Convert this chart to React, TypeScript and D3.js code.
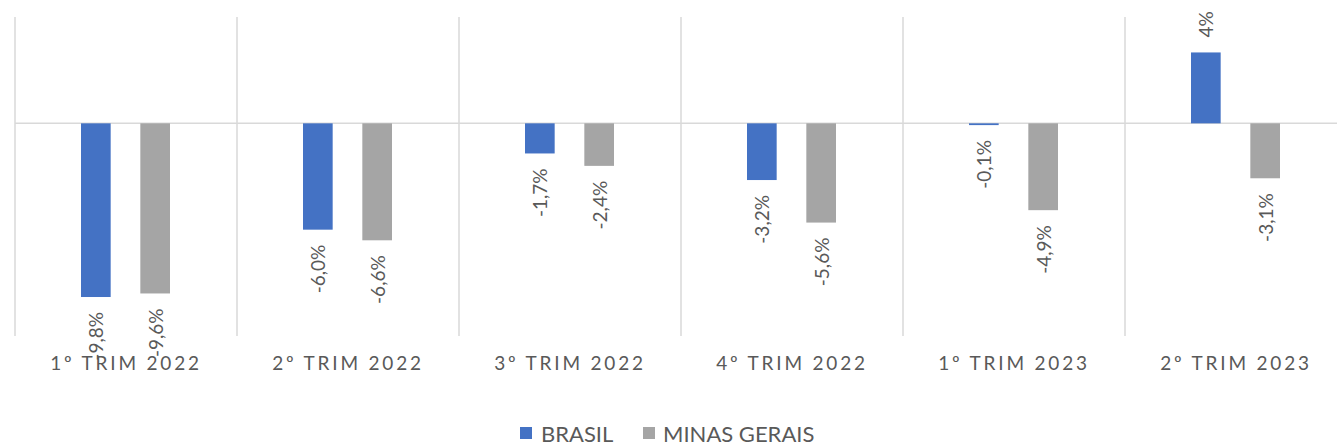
import React from 'react';
import * as d3 from 'd3';

const categories = ['1º TRIM 2022', '2º TRIM 2022', '3º TRIM 2022', '4º TRIM 2022', '1º TRIM 2023', '2º TRIM 2023'];
const seriesNames = ['BRASIL', 'MINAS GERAIS'];
const brasil = [-9.8, -6.0, -1.7, -3.2, -0.1, 4];
const minasGerais = [-9.6, -6.6, -2.4, -5.6, -4.9, -3.1];
const brasilLabels = ['-9,8%', '-6,0%', '-1,7%', '-3,2%', '-0,1%', '4%'];
const minasLabels = ['-9,6%', '-6,6%', '-2,4%', '-5,6%', '-4,9%', '-3,1%'];
const colors = ['#4472C4', '#A5A5A5'];

const W = 1337;
const H = 448;
const font = 'Lato, "Open Sans", sans-serif';
const textColor = '#595959';
const gridColor = '#D9D9D9';

const App: React.FC = () => {
  const x = d3.scaleBand<string>().domain(categories).range([15, 15 + 222 * 6]).padding(0);
  const inner = d3.scaleBand<string>().domain(seriesNames).range([66, 155]).paddingInner(0.5);
  const y = d3.scaleLinear().domain([-12, 6]).range([336, 17]);

  const series = [
    { name: seriesNames[0], values: brasil, labels: brasilLabels, color: colors[0] },
    { name: seriesNames[1], values: minasGerais, labels: minasLabels, color: colors[1] },
  ];

  const boundaries = d3.range(categories.length + 1).map(i => 15 + i * x.step());

  return (
    <svg
      width={W}
      height={H}
      style={{ position: 'absolute', left: 0, top: 0, background: '#fff' }}
    >
      {/* linhas verticais entre categorias */}
      {boundaries.map((bx, i) => (
        <line key={i} x1={bx} x2={bx} y1={y(6)} y2={y(-12)} stroke={gridColor} strokeWidth={1.5} />
      ))}
      {/* linha do zero */}
      <line x1={15} x2={W} y1={y(0)} y2={y(0)} stroke={gridColor} strokeWidth={1.5} />

      {series.map(s => (
        <g key={s.name}>
          {s.values.map((v, i) => {
            const bx = (x(categories[i]) ?? 0) + (inner(s.name) ?? 0);
            return (
              <rect
                key={i}
                x={bx}
                y={y(Math.max(0, v))}
                width={inner.bandwidth()}
                height={Math.abs(y(v) - y(0))}
                fill={s.color}
              />
            );
          })}
        </g>
      ))}

      {series.map(s => (
        <g key={s.name + '-labels'}>
          {s.values.map((v, i) => {
            const cx = (x(categories[i]) ?? 0) + (inner(s.name) ?? 0) + inner.bandwidth() / 2;
            const ly = v < 0 ? y(v) + 15 : y(v) - 15;
            return (
              <text
                key={i}
                transform={`translate(${cx},${ly}) rotate(-90)`}
                textAnchor={v < 0 ? 'end' : 'start'}
                dominantBaseline="central"
                fontFamily={font}
                fontSize={19}
                fill={textColor}
              >
                {s.labels[i]}
              </text>
            );
          })}
        </g>
      ))}

      {categories.map(c => (
        <text
          key={c}
          x={(x(c) ?? 0) + x.bandwidth() / 2}
          y={370}
          textAnchor="middle"
          fontFamily={font}
          fontSize={19}
          letterSpacing={2.8}
          fill={textColor}
        >
          {c}
        </text>
      ))}

      {/* legenda */}
      <g fontFamily={font} fontSize={22} fill={textColor}>
        <rect x={520} y={427} width={12} height={12} fill={colors[0]} />
        <text x={541} y={442}>{seriesNames[0]}</text>
        <rect x={643} y={427} width={12} height={12} fill={colors[1]} />
        <text x={663} y={442}>{seriesNames[1]}</text>
      </g>
    </svg>
  );
};

export default App;
